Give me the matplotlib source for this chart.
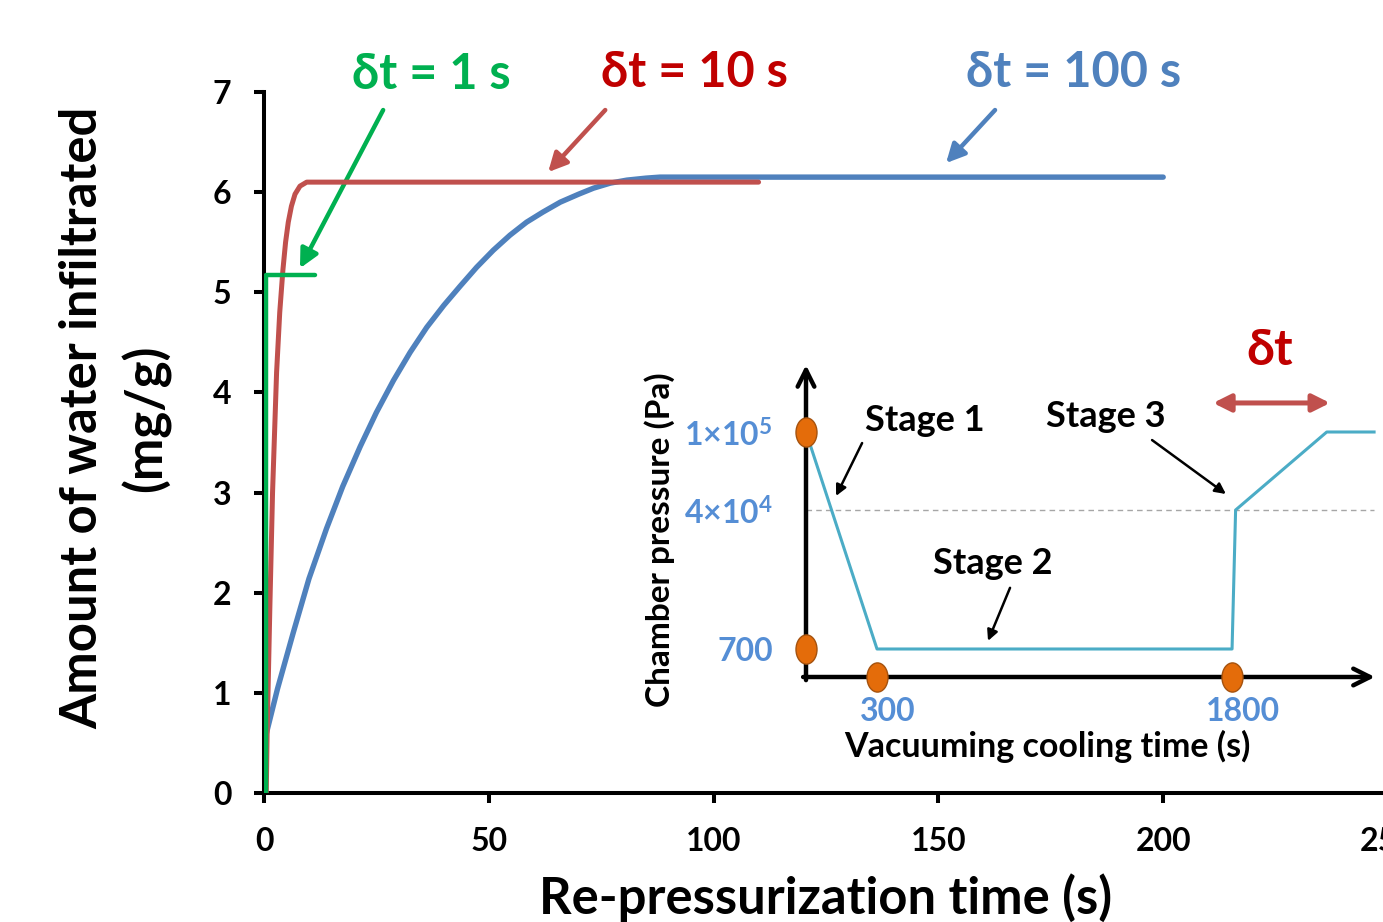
import numpy as np
import matplotlib
matplotlib.use('Agg')
import matplotlib.pyplot as plt
from matplotlib.path import Path
from matplotlib.transforms import Affine2D

plt.rcParams['font.family'] = ['Lato', 'Open Sans', 'DejaVu Sans']
plt.rcParams['font.weight'] = 'bold'
plt.rcParams['mathtext.fontset'] = 'custom'
plt.rcParams['mathtext.rm'] = 'Lato:bold'
plt.rcParams['mathtext.bf'] = 'Lato:bold'

# ---------------- data (main chart) ----------------
t_100 = [0, 3, 6.5, 10, 13.9, 17.5, 21.4, 25, 28.8, 32.5, 36.2, 40, 43.6, 47.3,
         51, 54.7, 58.4, 62, 65.9, 70, 73.3, 77, 80.7, 85, 88.1, 95, 100, 150, 200]
w_100 = [0.5, 1.04, 1.6, 2.14, 2.64, 3.06, 3.46, 3.8, 4.12, 4.4, 4.65, 4.87, 5.06, 5.25,
         5.42, 5.57, 5.70, 5.80, 5.90, 5.98, 6.04, 6.09, 6.12, 6.14, 6.15, 6.15, 6.15, 6.15, 6.15]
t_10 = [0.5, 0.7, 1.3, 1.9, 2.8, 3.5, 4.2, 4.8, 5.4, 6.1, 6.9, 8.0, 9.5, 11, 20, 50, 110]
w_10 = [0, 0.6, 1.85, 3.0, 4.2, 4.8, 5.22, 5.5, 5.70, 5.86, 5.98, 6.06, 6.1, 6.1, 6.1, 6.1, 6.1]
t_1 = [0.45, 0.45, 11.3]
w_1 = [0, 5.17, 5.17]
x_ticks = [0, 50, 100, 150, 200, 250]
y_ticks = [0, 1, 2, 3, 4, 5, 6, 7]
series_labels = ['δt = 1 s', 'δt = 10 s', 'δt = 100 s']

# ---------------- data (inset schematic) ----------------
vac_time = [0, 300, 1800, 1815, 2200, 2400]
vac_pressure = [1e5, 700, 700, 4e4, 1e5, 1e5]
ref_pressure = 4e4
inset_time_ticks = [300, 1800]
inset_time_labels = ['300', '1800']
inset_p_ticks = [1e5, 4e4, 700]
inset_p_labels = [r'$\mathbf{1{\times}10^{5}}$', r'$\mathbf{4{\times}10^{4}}$', '700']
stage_labels = ['Stage 1', 'Stage 2', 'Stage 3']

BLUE = '#4F81BD'
RED = '#C0504D'
GREEN = '#00B050'
DARKRED = '#C00000'
TEAL = '#4BACC6'
TICKBLUE = '#558ED5'
ORANGE = '#E46C0A'

W, H = 1383, 922
fig = plt.figure(figsize=(W / 100, H / 100), dpi=100)

# ---------------- main axes ----------------
ax = fig.add_axes([264 / W, (H - 793) / H, 1124 / W, 701 / H])
ax.set_xlim(0, 250)
ax.set_ylim(0, 7)
for s in ['top', 'right']:
    ax.spines[s].set_visible(False)
for s in ['left', 'bottom']:
    ax.spines[s].set_linewidth(2.9)
ax.set_xticks(x_ticks)
ax.set_yticks(y_ticks)
ax.tick_params(direction='out', length=7.5, width=2.9, labelsize=23, pad=17)
ax.tick_params(axis='y', pad=16)
for lab in ax.get_xticklabels() + ax.get_yticklabels():
    lab.set_fontweight('bold')

ax.plot(t_100, w_100, color=BLUE, lw=3.9, solid_capstyle='round', zorder=3)
ax.plot(t_10, w_10, color=RED, lw=3.6, solid_capstyle='round', zorder=4)
ax.plot(t_1, w_1, color=GREEN, lw=3.2, solid_capstyle='round', zorder=5)

# annotations
ann = [
    (series_labels[0], GREEN, (37.2, 7.17), (26.5, 6.82), (8.0, 5.24)),
    (series_labels[1], DARKRED, (95.7, 7.19), (75.9, 6.82), (63.2, 6.2)),
    (series_labels[2], BLUE, (180.0, 7.19), (162.6, 6.82), (151.7, 6.29)),
]
arrow_cols = [GREEN, RED, BLUE]
for (txt, col, tpos, tail, head), acol in zip(ann, arrow_cols):
    ax.text(tpos[0], tpos[1], txt, color=col, fontsize=35, fontweight='bold',
            ha='center', va='center', clip_on=False)
    ax.annotate('', xy=head, xytext=tail, annotation_clip=False,
                arrowprops=dict(arrowstyle='-|>', lw=3.2, color=acol,
                                mutation_scale=28, shrinkA=0, shrinkB=0))

fig.text(115 / W, (H - 418) / H, 'Amount of water infiltrated\n(mg/g)',
         rotation=90, ha='center', va='center', fontsize=36.5,
         fontweight='bold', linespacing=1.35, multialignment='center')
fig.text(826 / W, (H - 898) / H, 'Re-pressurization time (s)',
         ha='center', va='center', fontsize=36.5, fontweight='bold')

# ---------------- inset axes ----------------
P_KNOTS = [0, 700, 4e4, 1e5, 4e5]
POS_KNOTS = [0, 28, 167, 245, 580]


def fwd(p):
    return np.interp(p, P_KNOTS, POS_KNOTS)


def inv(v):
    return np.interp(v, POS_KNOTS, P_KNOTS)


PX_PER_S = 0.2367
axi = fig.add_axes([806 / W, (H - 677) / H, 577 / W, 312 / H])
axi.set_yscale('function', functions=(fwd, inv))
axi.set_xlim(0, 577 / PX_PER_S)
axi.set_ylim(0, 1.6e5)
axi.set_axis_off()

# axis arrows
axi.annotate('', xy=(0, 1), xytext=(0, -0.01), xycoords='axes fraction',
             arrowprops=dict(arrowstyle='->', lw=3.2, color='black',
                             mutation_scale=30, shrinkA=0, shrinkB=0))
axi.annotate('', xy=(0.986, 0), xytext=(-0.005, 0), xycoords='axes fraction',
             arrowprops=dict(arrowstyle='->', lw=3.2, color='black',
                             mutation_scale=30, shrinkA=0, shrinkB=0))

axi.plot([0, 2400], [ref_pressure, ref_pressure], ls='--', color='#A6A6A6',
         lw=1.0, dashes=(4, 3), zorder=2)
axi.plot(vac_time, vac_pressure, color=TEAL, lw=2.2, zorder=3, clip_on=False)

ell = Path.unit_circle().transformed(Affine2D().scale(0.72, 1.0))
mk = dict(marker=ell, markersize=21, color=ORANGE, markeredgecolor='#A5520E',
          markeredgewidth=1.0, ls='none', clip_on=False, zorder=6)
axi.plot([0, 0], [inset_p_ticks[0], inset_p_ticks[2]], **mk)
axi.plot(inset_time_ticks, [0] * len(inset_time_ticks), **mk)

for t, lab in zip(inset_time_ticks, inset_time_labels):
    axi.annotate(lab, xy=(t, 0), xytext=(8, -25), textcoords='offset points',
                 ha='center', va='center', fontsize=23, color=TICKBLUE,
                 fontweight='bold', annotation_clip=False)
for p, lab in zip(inset_p_ticks, inset_p_labels):
    axi.annotate(lab, xy=(0, p), xytext=(-24, -2), textcoords='offset points',
                 ha='right', va='center', fontsize=23, color=TICKBLUE,
                 fontweight='bold', annotation_clip=False)

axi.text((660 - 806) / 577, (677 - 540) / 312, 'Chamber pressure (Pa)',
         transform=axi.transAxes, rotation=90, ha='center', va='center',
         fontsize=24, fontweight='bold')
axi.text((1047 - 806) / 577, (677 - 746) / 312, 'Vacuuming cooling time (s)',
         transform=axi.transAxes, ha='center', va='center', fontsize=24.5,
         fontweight='bold')

stage_pos = [(503, 1.107e5), (790, 2.5e4), (1267, 1.143e5)]
stage_tail = [(237, 9.15e4), (862, 1.8e4), (1462, 9.38e4)]
stage_head = [(127, 5.08e4), (769, 3.0e3), (1774, 5.23e4)]
for lab, pos, tl, hd in zip(stage_labels, stage_pos, stage_tail, stage_head):
    axi.text(pos[0], pos[1], lab, ha='center', va='center', fontsize=26,
             fontweight='bold', clip_on=False)
    axi.annotate('', xy=hd, xytext=tl, annotation_clip=False,
                 arrowprops=dict(arrowstyle='-|>', lw=1.8, color='black',
                                 mutation_scale=16, shrinkA=0, shrinkB=0))

axi.text(1960, 1.734e5, 'δt', color=DARKRED, fontsize=36, fontweight='bold',
         ha='center', va='center', clip_on=False)
axi.annotate('', xy=(2214, 1.26e5), xytext=(1720, 1.26e5), annotation_clip=False,
             arrowprops=dict(arrowstyle='<|-|>', lw=3.6, color=RED,
                             mutation_scale=26, shrinkA=0, shrinkB=0))

fig.savefig('out.png', dpi=100)
